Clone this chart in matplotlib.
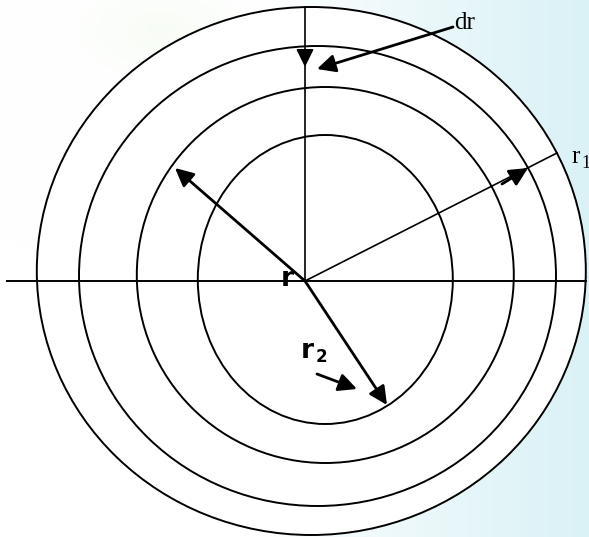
import numpy as np
import matplotlib.pyplot as plt
from matplotlib.patches import Ellipse

# ring geometry (pixel units, y grows downwards)
RING_CX = [311.3, 317.5, 325.3, 325.3]
RING_CY = [271.0, 276.0, 275.0, 279.5]
RING_W = [549, 477, 377, 255]
RING_H = [528, 460, 376, 289]

CENTER = (305, 281)
AXIS_X = [7, 586]          # horizontal line ends
AXIS_TOP = 7               # top of vertical line
R1_END = (557, 153)

# arrows: (start, tip)
ARROWS = [
    ((305, 281), (175, 168)),   # upper-left radius
    ((305, 281), (387, 405)),   # lower-right radius (r2)
    ((502, 184), (528, 168)),   # on the r1 line
    ((453, 27), (317, 69)),     # dr pointer
    ((317, 374), (357, 389)),   # small pointer to r2
]


fig = plt.figure(figsize=(5.89, 5.37), dpi=100)
ax = fig.add_axes([0, 0, 1, 1])
ax.set_xlim(0, 589)
ax.set_ylim(537, 0)
ax.axis('off')

# soft background: white on the left, pale cyan on the right
xx, yy = np.meshgrid(np.arange(589), np.arange(537))
w = np.clip((xx - 260) / 320.0, 0, 1) ** 0.9 * 0.95
cyan = np.array([0.85, 0.945, 0.965])
green = np.array([0.93, 0.975, 0.91])
g = 0.35 * np.exp(-(((xx - 160) / 70.0) ** 2 + ((yy - 30) / 40.0) ** 2))
bg = np.ones((537, 589, 3))
bg = bg * (1 - w[..., None]) + cyan * w[..., None]
bg = bg * (1 - g[..., None]) + green * g[..., None]
ax.imshow(bg, extent=(0, 589, 537, 0), zorder=0, aspect='auto')

for i in range(len(RING_W)):
    e = Ellipse((RING_CX[i], RING_CY[i]), RING_W[i], RING_H[i],
                facecolor='white' if i == 0 else 'none',
                edgecolor='black', lw=1.4, zorder=2 + i)
    ax.add_patch(e)

ax.plot(AXIS_X, [CENTER[1], CENTER[1]], color='black', lw=1.4, zorder=10)
ax.plot([CENTER[0], CENTER[0]], [AXIS_TOP, CENTER[1]], color='black', lw=1.2, zorder=10)
ax.plot([CENTER[0], R1_END[0]], [CENTER[1], R1_END[1]], color='black', lw=1.2, zorder=10)

# arrowhead on the vertical line
ax.annotate('', xy=(305, 67), xytext=(305, 50),
            arrowprops=dict(arrowstyle='-|>,head_length=0.55,head_width=0.27',
                            mutation_scale=20, lw=1.2, color='black',
                            shrinkA=0, shrinkB=0), zorder=11)

for start, tip in ARROWS:
    ax.annotate('', xy=tip, xytext=start,
                arrowprops=dict(arrowstyle='-|>,head_length=0.55,head_width=0.27',
                                mutation_scale=20, lw=2.0, color='black',
                                shrinkA=0, shrinkB=0), zorder=11)

serif = 'Liberation Serif'
ax.text(454, 29, 'dr', fontsize=18, family=serif, ha='left', va='baseline', zorder=12)
ax.text(571, 163, 'r', fontsize=18, family=serif, ha='left', va='baseline', zorder=12)
ax.text(581, 168, '1', fontsize=13, family=serif, ha='left', va='baseline', zorder=12)

ax.text(281, 286, 'r', fontsize=19, fontweight='bold', family='DejaVu Sans',
        ha='left', va='baseline', zorder=12)
ax.text(301, 358, 'r', fontsize=19, fontweight='bold', family='DejaVu Sans',
        ha='left', va='baseline', zorder=12)
ax.text(316, 362, '2', fontsize=12, fontweight='bold', family='DejaVu Sans',
        ha='left', va='baseline', zorder=12)

fig.savefig('out.png', dpi=100)
